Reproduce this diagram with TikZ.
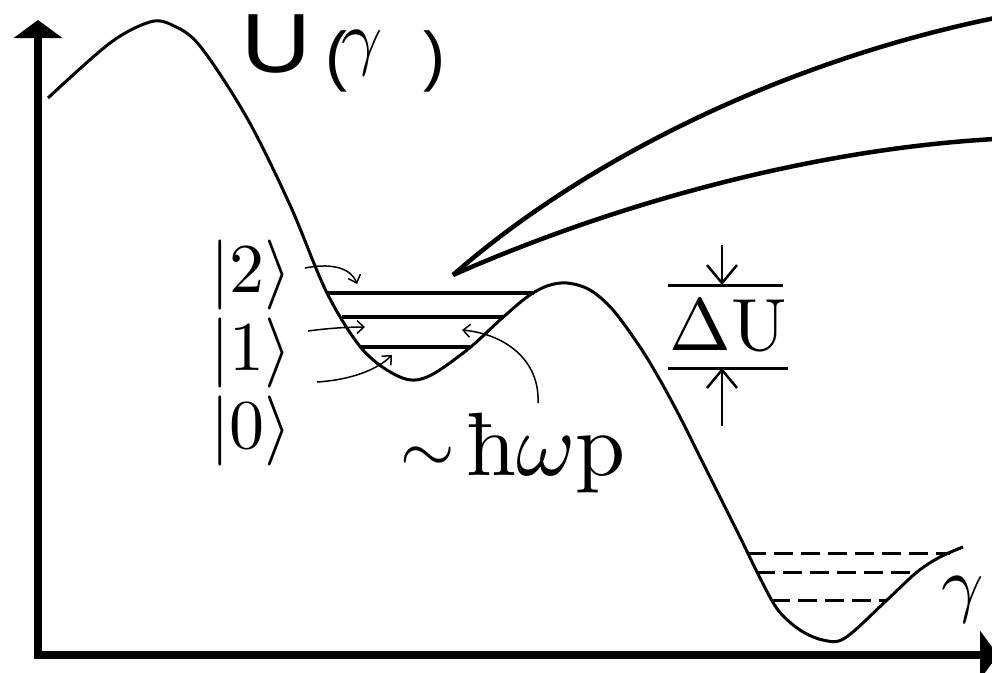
\documentclass[tikz,border=0pt]{standalone}
\usepackage{graphicx}
\usepackage{fontspec}
\setsansfont{Liberation Sans}
\usetikzlibrary{arrows.meta}
\tikzset{
  axis/.style={line width=8pt, line cap=rect, -{Triangle[length=18pt,width=48pt]}},
  pot/.style={line width=3pt, line join=round},
  level/.style={line width=4pt},
  dlevel/.style={line width=3pt, dash pattern=on 19pt off 8pt},
  cone/.style={line width=4.5pt},
  thinarrow/.style={line width=1.5pt, -{Straight Barb[length=7pt,width=13pt]}},
  dimbar/.style={line width=3pt},
  dimarrow/.style={line width=2.5pt, -{Straight Barb[length=18pt,width=30pt]}},
  ket/.style={inner sep=0pt},
}
\begin{document}
\begin{tikzpicture}[x=1pt,y=-1pt]
\useasboundingbox (0,0) rectangle (992,672);
\fill[white] (0,0) rectangle (992,672);

% axes
\coordinate (O) at (38,655);
\coordinate (ytop) at (38,20);
\coordinate (xend) at (998,655);
\draw[axis] (O) -- (ytop);
\draw[axis] (O) -- (xend);

% potential
\draw[pot] plot[smooth, tension=0.55] coordinates {
 (48,98) (110,43) (150,22) (172,25) (200,46) (247,118) (290,205) (327,293)
 (363,350) (400,377) (427,377) (467,350) (500,320) (527,297) (547,286)
 (567,283) (590,290) (613,310) (640,347) (660,380) (680,417) (700,457)
 (720,497) (740,537) (760,578) (778,610) (800,630) (823,640) (845,638)
 (887,600) (917,572) (940,557) (963,547)};

% levels in the metastable well
\coordinate (l2a) at (327,293); \coordinate (l2b) at (534,293);
\coordinate (l1a) at (342,317); \coordinate (l1b) at (504,317);
\coordinate (l0a) at (361,347); \coordinate (l0b) at (470,347);
\draw[level] (l2a) -- (l2b);
\draw[level] (l1a) -- (l1b);
\draw[level] (l0a) -- (l0b);

% dashed levels in the deep well
\coordinate (d2a) at (747,553); \coordinate (d2b) at (950,553);
\coordinate (d1a) at (756,572); \coordinate (d1b) at (917,572);
\coordinate (d0a) at (771,600); \coordinate (d0b) at (887,600);
\draw[dlevel] (d2a) -- (d2b);
\draw[dlevel] (d1a) -- (d1b);
\draw[dlevel] (d0a) -- (d0b);

% cone
\coordinate (tip) at (453,275);
\coordinate (c1) at (995,18);
\coordinate (c2) at (995,139);
\draw[cone] (tip) .. controls (590,155) and (790,60) .. (c1);
\draw[cone] (tip) .. controls (600,210) and (800,150) .. (c2);

% kets
\node[ket] (k2) at (251,275) {\scalebox{7}{$|2\rangle$}};
\node[ket] (k1) at (251,353) {\scalebox{7}{$|1\rangle$}};
\node[ket] (k0) at (251,431) {\scalebox{7}{$|0\rangle$}};
\coordinate (s2) at (305,268); \coordinate (e2) at (357,284);
\coordinate (s1) at (308,331); \coordinate (e1) at (365,327);
\coordinate (s0) at (317,382); \coordinate (e0) at (392,355);
\draw[thinarrow] (s2) .. controls (335,262) and (352,270) .. (e2);
\draw[thinarrow] (s1) .. controls (330,328) and (350,327) .. (e1);
\draw[thinarrow] (s0) .. controls (350,380) and (377,370) .. (e0);

% hbar omega_p
\node[inner sep=0pt, anchor=base west] (hw) at (400,475)
  {\raisebox{3pt}{\scalebox{7}{$\sim$}}\hspace{12pt}\scalebox{9}{ħ$\omega$p}};
\coordinate (sh) at (538,403); \coordinate (eh) at (462,330);
\draw[thinarrow] (sh) .. controls (540,360) and (505,334) .. (eh);

% Delta U
\coordinate (bt1) at (668,285); \coordinate (bt2) at (783,285);
\coordinate (bb1) at (668,368); \coordinate (bb2) at (788,368);
\draw[dimbar] (bt1) -- (bt2);
\draw[dimbar] (bb1) -- (bb2);
\coordinate (da0) at (722,245); \coordinate (da1) at (722,285);
\coordinate (ua0) at (722,426); \coordinate (ua1) at (722,368);
\draw[dimarrow] (da0) -- (da1);
\draw[dimarrow] (ua0) -- (ua1);
\node[inner sep=0pt] (dU) at (728,326) {\scalebox{7.4}{$\Delta$U}};

% axis labels
\node[inner sep=0pt, anchor=base west, font=\sffamily\fontsize{84}{84}\selectfont] (U) at (241,72) {\scalebox{1.15}[1]{U}};
\node[inner sep=0pt, anchor=base west, font=\sffamily\fontsize{66}{66}\selectfont] (lp) at (325,78) {(};
\node[inner sep=0pt, anchor=base] (gU) at (362,61) {\scalebox{7.2}{$\gamma$}};
\node[inner sep=0pt, anchor=base west, font=\sffamily\fontsize{66}{66}\selectfont] (rp) at (423,78) {)};
\node[inner sep=0pt] (g) at (963,600) {\scalebox{7.4}{$\gamma$}};
\end{tikzpicture}
\end{document}
